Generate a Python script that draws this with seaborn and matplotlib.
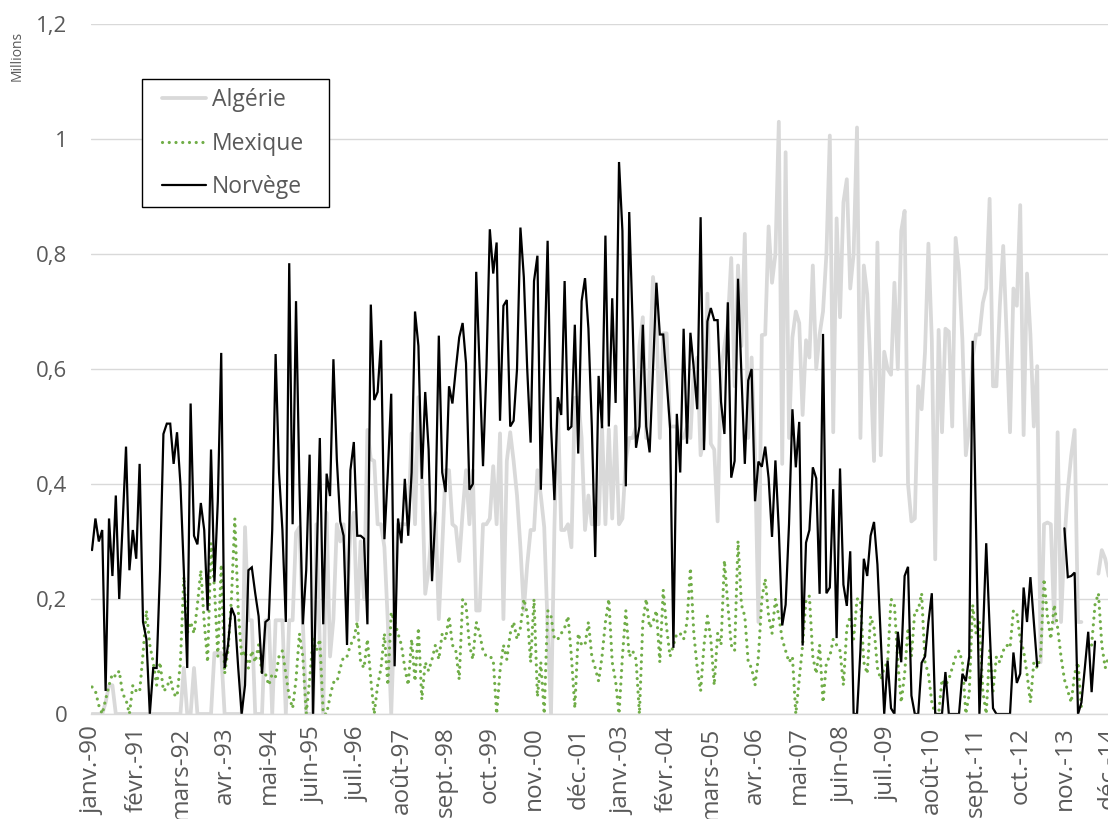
import numpy as np
import pandas as pd
import matplotlib
matplotlib.use("Agg")
import matplotlib.pyplot as plt
import seaborn as sns
from matplotlib.lines import Line2D
from matplotlib.patches import Rectangle
from matplotlib.ticker import FuncFormatter

nan = np.nan

# ---------------- data (monthly, janv. 1990 -> déc. 2014, millions) ----------------
START_YEAR = 1990
MOIS = ["janv.", "févr.", "mars", "avr.", "mai", "juin",
        "juil.", "août", "sept.", "oct.", "nov.", "déc."]
SERIES = ["Algérie", "Mexique", "Norvège"]
YTICKS = [0, 0.2, 0.4, 0.6, 0.8, 1.0, 1.2]

algerie = [
    0, 0, 0, 0, 0.02, 0.05, 0.05, 0, 0, 0, 0, 0,                                # 1990
    0, 0, 0, 0, 0, 0, 0, 0, 0, 0, 0, 0,                                         # 1991
    0, 0, 0, 0.08, 0, 0, 0.08, 0, 0, 0, 0, 0,                                   # 1992
    0.106, 0.106, 0.106, 0, 0, 0, 0, 0, 0, 0.325, 0.163, 0.163,                 # 1993
    0, 0, 0, 0.163, 0.163, 0, 0.163, 0.163, 0.163, 0, 0.163, 0.163,             # 1994
    0.315, 0.325, 0.163, 0, 0, 0, 0.33, 0.12, 0, 0.35, 0.10, 0.165,             # 1995
    0.33, 0.30, 0.33, 0.19, 0.32, 0.35, 0.163, 0.30, 0.20, 0.494, 0.443, 0.44,  # 1996
    0.33, 0.33, 0.29, 0.16, 0, 0.18, 0.33, 0.33, 0.33, 0.33, 0.488, 0.33,       # 1997
    0.551, 0.42, 0.209, 0.25, 0.33, 0.35, 0.165, 0.29, 0.424, 0.424, 0.33, 0.325,  # 1998
    0.266, 0.35, 0.424, 0.33, 0.424, 0.18, 0.18, 0.33, 0.33, 0.34, 0.431, 0.33,    # 1999
    0.488, 0.165, 0.44, 0.49, 0.44, 0.38, 0.29, 0.18, 0.26, 0.32, 0.32, 0.424,     # 2000
    0.38, 0.325, 0.15, 0, 0.325, 0.544, 0.32, 0.32, 0.33, 0.29, 0.55, 0.55,        # 2001
    0.48, 0.32, 0.38, 0.33, 0.33, 0.33, 0.50, 0.33, 0.495, 0.34, 0.50, 0.33,       # 2002
    0.34, 0.44, 0.48, 0.48, 0.50, 0.64, 0.69, 0.48, 0.60, 0.76, 0.69, 0.48,        # 2003
    0.662, 0.662, 0.50, 0.50, 0.50, 0.48, 0.48, 0.50, 0.48, 0.60, 0.62, 0.45,      # 2004
    0.48, 0.731, 0.47, 0.46, 0.335, 0.60, 0.64, 0.68, 0.793, 0.57, 0.78, 0.64,     # 2005
    0.835, 0.48, 0.62, 0.45, 0.16, 0.659, 0.66, 0.848, 0.75, 0.80, 1.03, 0.435,    # 2006
    0.977, 0.48, 0.655, 0.70, 0.68, 0.52, 0.65, 0.62, 0.78, 0.60, 0.66, 0.70,      # 2007
    0.80, 1.006, 0.49, 0.862, 0.69, 0.89, 0.93, 0.74, 0.80, 1.02, 0.48, 0.78,      # 2008
    0.73, 0.60, 0.44, 0.82, 0.45, 0.63, 0.60, 0.59, 0.75, 0.60, 0.84, 0.875,       # 2009
    0.40, 0.335, 0.34, 0.57, 0.53, 0.63, 0.818, 0.65, 0.269, 0.668, 0.49, 0.67,    # 2010
    0.665, 0.50, 0.828, 0.77, 0.65, 0.45, 0.50, 0.62, 0.66, 0.66, 0.715, 0.74,     # 2011
    0.896, 0.57, 0.57, 0.71, 0.814, 0.66, 0.49, 0.74, 0.71, 0.885, 0.485, 0.766,  # 2012
    0.66, 0.50, 0.605, 0.09, 0.33, 0.333, 0.33, 0.158, 0.49, 0.16, 0.30, 0.39,     # 2013
    0.45, 0.494, 0.16, 0.16, nan, nan, nan, nan, 0.244, 0.285, 0.27, 0.24,         # 2014
]

mexique = [
    0.047, 0.04, 0.015, 0.0, 0.025, 0.05, 0.07, 0.065, 0.075, 0.035, 0.025, 0.0,  # 1990
    0.05, 0.04, 0.038, 0.105, 0.18, 0.12, 0.09, 0.05, 0.09, 0.04, 0.045, 0.065,   # 1991
    0.035, 0.03, 0.09, 0.239, 0.14, 0.16, 0.14, 0.19, 0.25, 0.16, 0.09, 0.297,    # 1992
    0.22, 0.10, 0.26, 0.07, 0.11, 0.20, 0.34, 0.18, 0.10, 0.11, 0.08, 0.11,       # 1993
    0.09, 0.12, 0.07, 0.07, 0.05, 0.07, 0.065, 0.10, 0.11, 0.07, 0.03, 0.01,      # 1994
    0.06, 0.14, 0.10, 0.0, 0.06, 0.13, 0.11, 0.13, 0.0, 0.0, 0.03, 0.055,         # 1995
    0.055, 0.08, 0.10, 0.10, 0.12, 0.13, 0.16, 0.09, 0.08, 0.13, 0.06, 0.0,       # 1996
    0.05, 0.08, 0.14, 0.05, 0.177, 0.16, 0.14, 0.12, 0.08, 0.05, 0.13, 0.057,     # 1997
    0.15, 0.025, 0.09, 0.075, 0.095, 0.12, 0.095, 0.14, 0.13, 0.17, 0.12, 0.11,   # 1998
    0.06, 0.20, 0.19, 0.12, 0.095, 0.16, 0.14, 0.11, 0.10, 0.10, 0.095, 0.0,      # 1999
    0.075, 0.12, 0.095, 0.14, 0.16, 0.13, 0.15, 0.20, 0.175, 0.09, 0.20, 0.03,    # 2000
    0.09, 0.0, 0.18, 0.17, 0.13, 0.13, 0.14, 0.15, 0.17, 0.10, 0.01, 0.14,        # 2001
    0.12, 0.12, 0.16, 0.10, 0.08, 0.057, 0.10, 0.16, 0.20, 0.09, 0.057, 0.0,      # 2002
    0.10, 0.18, 0.10, 0.11, 0.095, 0.0, 0.16, 0.20, 0.15, 0.16, 0.18, 0.09,       # 2003
    0.216, 0.15, 0.10, 0.12, 0.14, 0.14, 0.13, 0.16, 0.254, 0.14, 0.08, 0.04,     # 2004
    0.12, 0.17, 0.13, 0.05, 0.14, 0.12, 0.267, 0.19, 0.12, 0.11, 0.301, 0.19,     # 2005
    0.17, 0.09, 0.08, 0.05, 0.10, 0.20, 0.235, 0.17, 0.14, 0.20, 0.17, 0.13,      # 2006
    0.11, 0.09, 0.10, 0.0, 0.06, 0.12, 0.20, 0.205, 0.10, 0.07, 0.12, 0.02,       # 2007
    0.09, 0.10, 0.13, 0.12, 0.11, 0.05, 0.15, 0.17, 0.13, 0.20, 0.20, 0.09,       # 2008
    0.07, 0.17, 0.15, 0.08, 0.06, 0.08, 0.09, 0.20, 0.19, 0.09, 0.02, 0.07,       # 2009
    0.15, 0.10, 0.18, 0.18, 0.21, 0.09, 0.07, 0.02, 0.0, 0.0, 0.06, 0.05,         # 2010
    0.06, 0.08, 0.10, 0.11, 0.09, 0.0, 0.035, 0.19, 0.14, 0.16, 0.04, 0.0,        # 2011
    0.11, 0.04, 0.10, 0.09, 0.11, 0.12, 0.115, 0.18, 0.175, 0.13, 0.11, 0.07,     # 2012
    0.02, 0.09, 0.08, 0.10, 0.235, 0.17, 0.13, 0.19, 0.15, 0.10, 0.06, 0.04,      # 2013
    0.02, 0.07, 0.09, 0.01, nan, nan, 0.12, 0.19, 0.21, 0.12, 0.08, 0.10,         # 2014
]

norvege = [
    0.285, 0.34, 0.30, 0.32, 0.04, 0.34, 0.24, 0.38, 0.20, 0.33, 0.465, 0.25,     # 1990
    0.32, 0.27, 0.435, 0.16, 0.13, 0.0, 0.08, 0.08, 0.25, 0.487, 0.505, 0.505,    # 1991
    0.435, 0.49, 0.40, 0.25, 0.08, 0.54, 0.31, 0.295, 0.367, 0.32, 0.18, 0.46,    # 1992
    0.23, 0.37, 0.628, 0.08, 0.12, 0.185, 0.17, 0.08, 0.0, 0.05, 0.25, 0.255,     # 1993
    0.21, 0.17, 0.07, 0.16, 0.165, 0.32, 0.626, 0.42, 0.32, 0.16, 0.784, 0.33,    # 1994
    0.718, 0.40, 0.156, 0.25, 0.451, 0.0, 0.25, 0.48, 0.156, 0.418, 0.379, 0.617, # 1995
    0.443, 0.335, 0.31, 0.12, 0.424, 0.473, 0.31, 0.31, 0.305, 0.156, 0.712, 0.546,  # 1996
    0.56, 0.65, 0.304, 0.42, 0.557, 0.083, 0.34, 0.297, 0.409, 0.31, 0.42, 0.70,     # 1997
    0.64, 0.409, 0.56, 0.46, 0.231, 0.35, 0.658, 0.42, 0.386, 0.57, 0.54, 0.60,      # 1998
    0.655, 0.68, 0.61, 0.39, 0.40, 0.769, 0.60, 0.431, 0.60, 0.843, 0.766, 0.82,     # 1999
    0.51, 0.71, 0.72, 0.50, 0.51, 0.60, 0.846, 0.76, 0.60, 0.472, 0.753, 0.797,      # 2000
    0.39, 0.60, 0.823, 0.50, 0.372, 0.551, 0.52, 0.753, 0.494, 0.50, 0.677, 0.453,   # 2001
    0.718, 0.758, 0.67, 0.50, 0.273, 0.588, 0.497, 0.832, 0.50, 0.723, 0.541, 0.96,  # 2002
    0.84, 0.396, 0.873, 0.68, 0.463, 0.50, 0.677, 0.50, 0.455, 0.60, 0.75, 0.66,     # 2003
    0.66, 0.58, 0.50, 0.115, 0.522, 0.42, 0.67, 0.47, 0.663, 0.60, 0.53, 0.864,      # 2004
    0.459, 0.683, 0.706, 0.685, 0.685, 0.543, 0.487, 0.716, 0.411, 0.44, 0.757, 0.59,  # 2005
    0.435, 0.58, 0.60, 0.37, 0.439, 0.43, 0.465, 0.41, 0.308, 0.441, 0.32, 0.154,    # 2006
    0.19, 0.33, 0.53, 0.429, 0.508, 0.119, 0.298, 0.32, 0.429, 0.41, 0.209, 0.661,   # 2007
    0.21, 0.22, 0.391, 0.132, 0.427, 0.225, 0.188, 0.283, 0.0, 0.0, 0.11, 0.27,      # 2008
    0.24, 0.31, 0.334, 0.26, 0.13, 0.0, 0.093, 0.01, 0.0, 0.143, 0.09, 0.24,         # 2009
    0.256, 0.032, 0.0, 0.0, 0.089, 0.10, 0.16, 0.21, 0.0, 0.0, 0.0, 0.073,           # 2010
    0.0, 0.0, 0.0, 0.0, 0.07, 0.057, 0.10, 0.649, 0.32, 0.0, 0.13, 0.297,            # 2011
    0.15, 0.01, 0.0, 0.0, 0.0, 0.0, 0.0, 0.107, 0.054, 0.07, 0.22, 0.16,             # 2012
    0.238, 0.16, 0.083, nan, nan, nan, nan, nan, nan, nan, 0.323, 0.238,             # 2013
    0.24, 0.246, 0.0, 0.02, 0.08, 0.143, 0.038, 0.126, nan, nan, nan, nan,           # 2014
]

# ---------------- figure ----------------
n = len(norvege)
df = pd.DataFrame({"mois": np.arange(n),
                   "Algérie": algerie, "Mexique": mexique, "Norvège": norvege})

sns.set_style("white")
plt.rcParams["font.family"] = ["Open Sans", "DejaVu Sans"]
TXT = "#595959"
GRID = "#d9d9d9"

W, H = 1108, 819
fig = plt.figure(figsize=(W / 100, H / 100), dpi=100)
XMIN, XMAX = -0.3, 302
PX_PER_MONTH = 3.4
ax = fig.add_axes([91 / W, 105 / H, (XMAX - XMIN) * PX_PER_MONTH / W, 690 / H])

styles = {
    "Algérie": dict(color="#d9d9d9", linewidth=2.7, solid_joinstyle="round"),
    "Mexique": dict(color="#70ad47", linewidth=2.3, linestyle=(0, (0.01, 2.1)),
                    dash_capstyle="round"),
    "Norvège": dict(color="#000000", linewidth=1.6, solid_joinstyle="miter"),
}

for name in SERIES:
    vals = df[name].to_numpy(dtype=float)
    idx = np.flatnonzero(~np.isnan(vals))
    cuts = np.where(np.diff(idx) > 1)[0] + 1
    for seg in np.split(idx, cuts):
        sub = df.iloc[seg]
        sns.lineplot(data=sub, x="mois", y=name, ax=ax, legend=False,
                     **styles[name])

# axes cosmetics
ax.set_xlim(XMIN, XMAX)
ax.set_ylim(0, 1.2)
ax.set_yticks(YTICKS)
ax.yaxis.set_major_formatter(FuncFormatter(lambda v, p: f"{v:g}".replace(".", ",")))
tick_pos = df["mois"].to_numpy()[::13]
tick_lab = [f"{MOIS[m % 12]}-{(START_YEAR + m // 12) % 100:02d}" for m in tick_pos]
ax.set_xticks(tick_pos)
ax.set_xticklabels(tick_lab, rotation=90)
ax.set_xlabel("")
ax.set_ylabel("")
ax.set_axisbelow(True)
ax.yaxis.grid(True, color=GRID, linewidth=1.0)
ax.xaxis.grid(False)
for s in ["top", "right", "left"]:
    ax.spines[s].set_visible(False)
ax.spines["bottom"].set_color(GRID)
ax.spines["bottom"].set_linewidth(1.0)
ax.tick_params(axis="x", which="major", length=4, width=1, color=GRID,
               direction="out", pad=5, labelsize=17.5, labelcolor=TXT)
ax.tick_params(axis="y", which="major", length=0, pad=17, labelsize=16,
               labelcolor=TXT)
ax.patch.set_alpha(0)

# "Millions" unit label
fig.text(17 / W, 1 - 56 / H, "Millions", rotation=90, fontsize=10, color=TXT,
         ha="center", va="center")

# legend frame + entries
fig.add_artist(Rectangle((142 / W, 1 - 207 / H), 187 / W, 128 / H,
                         transform=fig.transFigure, facecolor="white",
                         edgecolor="black", linewidth=1.0, zorder=5))
handles = [Line2D([], [], **styles[s]) for s in SERIES]
leg = fig.legend(handles, SERIES, loc="upper left",
                 bbox_to_anchor=(162 / W, 1 - 88 / H), bbox_transform=fig.transFigure,
                 frameon=False, fontsize=16.5, labelcolor=TXT,
                 handlelength=1.9, handletextpad=0.28, labelspacing=0.86,
                 borderpad=0, borderaxespad=0)
leg.set_zorder(6)

fig.savefig("out.png", dpi=100)
